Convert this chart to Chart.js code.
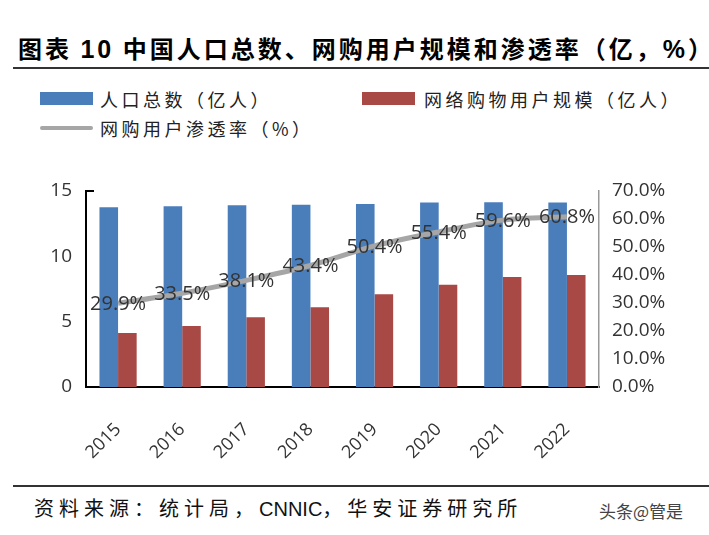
<!DOCTYPE html>
<html>
<head>
<meta charset="utf-8">
<script src="https://cdn.jsdelivr.net/npm/chart.js@4/dist/chart.umd.min.js"></script>
<style>
  html, body { margin: 0; padding: 0; background: #fff; }
  #page { position: relative; width: 709px; height: 535px; overflow: hidden; }
  .title { position: absolute; left: 18px; top: 30px; font: bold 24px "Noto Sans CJK SC", sans-serif; letter-spacing: 3px; color: #000; white-space: nowrap; }
  .title .num { font-family: "Liberation Sans", Arial, sans-serif; font-size: 25px; }
  .rule { position: absolute; left: 13px; right: 0; height: 2px; background: #333; }
  .lg { position: absolute; font: 18px "Noto Sans CJK SC", sans-serif; letter-spacing: 3.5px; color: #222; white-space: nowrap; }
  .sw { position: absolute; }
  .src { position: absolute; left: 34px; top: 493px; font: 20px "Noto Sans CJK SC", sans-serif; letter-spacing: 5px; color: #111; white-space: nowrap; }
  .src .en { font-family: "Liberation Sans", Arial, sans-serif; letter-spacing: 0; }
  .wm { position: absolute; left: 599px; top: 498px; font: 17px "Noto Sans CJK SC", sans-serif; color: #444; white-space: nowrap; }
  #wrap { position: absolute; left: 0; top: 160px; width: 709px; height: 320px; }
</style>
</head>
<body>
<div id="page">
  <div class="title">图表 <span class="num">10</span> 中国人口总数、网购用户规模和渗透率（亿，<span class="num">%</span>）</div>
  <div class="rule" style="top:67px"></div>

  <div class="sw" style="left:40px;top:92px;width:53px;height:13px;background:#4a7ebb"></div>
  <div class="lg" style="left:100px;top:86px">人口总数（亿人）</div>
  <div class="sw" style="left:362px;top:92px;width:53px;height:13px;background:#a84946"></div>
  <div class="lg" style="left:424px;top:86px">网络购物用户规模（亿人）</div>
  <div class="sw" style="left:40px;top:126px;width:53px;height:4px;background:#a6a6a6;border-radius:2px"></div>
  <div class="lg" style="left:100px;top:115px">网购用户渗透率（%）</div>

  <div id="wrap"><canvas id="c"></canvas></div>

  <div class="rule" style="top:485px"></div>
  <div class="src">资料来源：统计局，<span class="en">CNNIC</span>，华安证券研究所</div>
  <div class="wm">头条@管是</div>
</div>
<script>
// --- data ---
const years = ['2015', '2016', '2017', '2018', '2019', '2020', '2021', '2022'];
const population = [13.75, 13.83, 13.90, 13.95, 14.00, 14.12, 14.13, 14.12];
const onlineShoppers = [4.13, 4.67, 5.33, 6.10, 7.10, 7.82, 8.42, 8.58];
const penetration = [29.9, 33.5, 38.1, 43.4, 50.4, 55.4, 59.6, 60.8];
const leftTicks = [0, 5, 10, 15];
const rightMax = 70;

const tickFont = { family: '"Open Sans", "Noto Sans", sans-serif', size: 19 };

// percent labels sitting on the line points
const lineLabels = {
  id: 'lineLabels',
  afterDatasetsDraw(chart) {
    const meta = chart.getDatasetMeta(0);
    const ctx = chart.ctx;
    ctx.save();
    ctx.font = '20px "Open Sans", "Noto Sans", sans-serif';
    ctx.fillStyle = '#333';
    ctx.textAlign = 'center';
    ctx.textBaseline = 'middle';
    meta.data.forEach((pt, i) => {
      ctx.fillText(penetration[i].toFixed(1) + '%', pt.x, pt.y + 1);
    });
    ctx.restore();
  }
};

// small inward tick at the top of the left axis
const topTick = {
  id: 'topTick',
  afterDraw(chart) {
    const y = chart.scales.y;
    const ctx = chart.ctx;
    ctx.save();
    ctx.strokeStyle = '#000';
    ctx.lineWidth = 2;
    ctx.beginPath();
    ctx.moveTo(y.right - 1, y.getPixelForValue(15));
    ctx.lineTo(y.right + 8, y.getPixelForValue(15));
    ctx.stroke();
    ctx.restore();
  }
};

new Chart(document.getElementById('c'), {
  data: {
    labels: years,
    datasets: [
      {
        type: 'line',
        data: penetration,
        yAxisID: 'y1',
        borderColor: '#a6a6a6',
        borderWidth: 5,
        tension: 0.3,
        pointRadius: 0,
        order: 0
      },
      {
        type: 'bar',
        data: population,
        yAxisID: 'y',
        backgroundColor: '#4a7ebb',
        barPercentage: 1,
        categoryPercentage: 0.58,
        order: 1
      },
      {
        type: 'bar',
        data: onlineShoppers,
        yAxisID: 'y',
        backgroundColor: '#a84946',
        barPercentage: 1,
        categoryPercentage: 0.58,
        order: 1
      }
    ]
  },
  options: {
    responsive: true,
    maintainAspectRatio: false,
    animation: false,
    layout: { padding: { top: 31, left: 0, right: 0, bottom: 0 } },
    plugins: { legend: { display: false }, tooltip: { enabled: false } },
    scales: {
      x: {
        grid: { display: false, drawTicks: false },
        border: { color: '#000', width: 2 },
        ticks: { color: '#333', font: { ...tickFont, size: 18 }, maxRotation: 45, minRotation: 45, padding: 32 },
        afterFit: s => { s.height = 93; }
      },
      y: {
        position: 'left',
        min: 0, max: 15,
        afterBuildTicks: s => { s.ticks = leftTicks.map(v => ({ value: v })); },
        grid: { display: false, drawTicks: false },
        border: { color: '#000', width: 2 },
        ticks: { color: '#333', font: tickFont, padding: 14 },
        afterFit: s => { s.width = 86; }
      },
      y1: {
        position: 'right',
        min: 0, max: rightMax,
        grid: { display: false, drawTicks: false },
        border: { color: '#999', width: 1.5 },
        ticks: { color: '#333', font: tickFont, padding: 13, stepSize: 10, callback: v => v.toFixed(1) + '%' },
        afterFit: s => { s.width = 110; }
      }
    }
  },
  plugins: [lineLabels, topTick]
});
</script>
</body>
</html>
